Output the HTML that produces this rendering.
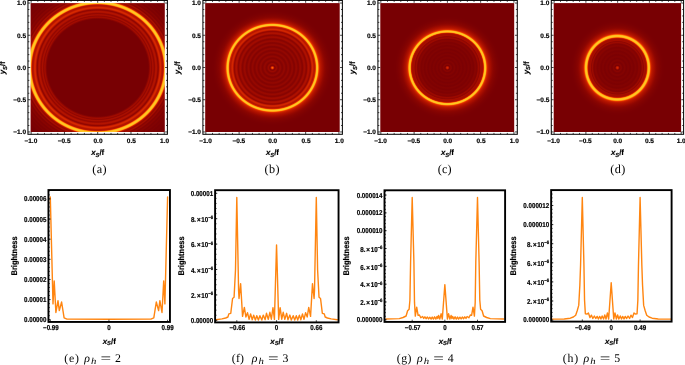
<!DOCTYPE html>
<html><head><meta charset="utf-8"><title>figure</title>
<style>
html,body{margin:0;padding:0;background:#fff;}
body{width:685px;height:365px;overflow:hidden;font-family:"Liberation Sans",sans-serif;}
svg{display:block;will-change:transform;}
text{fill:#000;text-rendering:geometricPrecision;}
</style></head><body>
<svg width="685" height="365" viewBox="0 0 685 365">
<defs>
<radialGradient id="ga" gradientUnits="userSpaceOnUse" cx="0" cy="0" r="1.480" gradientTransform="translate(97.70 67.75) scale(67.150 64.330)"><stop offset="0.0000" stop-color="#780003"/><stop offset="0.5071" stop-color="#780003"/><stop offset="0.5095" stop-color="#790003"/><stop offset="0.5119" stop-color="#7c0103"/><stop offset="0.5143" stop-color="#800202"/><stop offset="0.5167" stop-color="#850302"/><stop offset="0.5190" stop-color="#890401"/><stop offset="0.5214" stop-color="#8e0601"/><stop offset="0.5238" stop-color="#940801"/><stop offset="0.5262" stop-color="#9a0900"/><stop offset="0.5286" stop-color="#9f0b00"/><stop offset="0.5310" stop-color="#a10c00"/><stop offset="0.5333" stop-color="#a10b00"/><stop offset="0.5357" stop-color="#9d0a00"/><stop offset="0.5381" stop-color="#980900"/><stop offset="0.5405" stop-color="#930701"/><stop offset="0.5429" stop-color="#910701"/><stop offset="0.5452" stop-color="#940801"/><stop offset="0.5476" stop-color="#9b0a00"/><stop offset="0.5500" stop-color="#a30c00"/><stop offset="0.5524" stop-color="#a70e00"/><stop offset="0.5548" stop-color="#a90f00"/><stop offset="0.5571" stop-color="#a80f00"/><stop offset="0.5595" stop-color="#a50d00"/><stop offset="0.5619" stop-color="#a10b00"/><stop offset="0.5643" stop-color="#9b0900"/><stop offset="0.5667" stop-color="#950801"/><stop offset="0.5690" stop-color="#930701"/><stop offset="0.5714" stop-color="#950801"/><stop offset="0.5738" stop-color="#9a0900"/><stop offset="0.5762" stop-color="#a10b00"/><stop offset="0.5786" stop-color="#a60e00"/><stop offset="0.5810" stop-color="#ab1000"/><stop offset="0.5833" stop-color="#b01200"/><stop offset="0.5857" stop-color="#b31300"/><stop offset="0.5881" stop-color="#b41400"/><stop offset="0.5905" stop-color="#b31300"/><stop offset="0.5929" stop-color="#b01200"/><stop offset="0.5952" stop-color="#ab1000"/><stop offset="0.5976" stop-color="#a60e00"/><stop offset="0.6000" stop-color="#a10b00"/><stop offset="0.6024" stop-color="#990900"/><stop offset="0.6048" stop-color="#930701"/><stop offset="0.6071" stop-color="#900601"/><stop offset="0.6095" stop-color="#900601"/><stop offset="0.6119" stop-color="#970800"/><stop offset="0.6143" stop-color="#a10c00"/><stop offset="0.6167" stop-color="#ab1000"/><stop offset="0.6190" stop-color="#b51500"/><stop offset="0.6214" stop-color="#bf1a00"/><stop offset="0.6238" stop-color="#c92000"/><stop offset="0.6262" stop-color="#d02500"/><stop offset="0.6286" stop-color="#d52800"/><stop offset="0.6310" stop-color="#d72a00"/><stop offset="0.6333" stop-color="#d62900"/><stop offset="0.6357" stop-color="#d32700"/><stop offset="0.6381" stop-color="#ce2400"/><stop offset="0.6405" stop-color="#c81f00"/><stop offset="0.6429" stop-color="#c11b00"/><stop offset="0.6452" stop-color="#bb1800"/><stop offset="0.6476" stop-color="#b61500"/><stop offset="0.6500" stop-color="#b31400"/><stop offset="0.6524" stop-color="#b31300"/><stop offset="0.6548" stop-color="#b31400"/><stop offset="0.6571" stop-color="#b41400"/><stop offset="0.6595" stop-color="#b71600"/><stop offset="0.6619" stop-color="#c92000"/><stop offset="0.6643" stop-color="#dd3000"/><stop offset="0.6667" stop-color="#f35000"/><stop offset="0.6690" stop-color="#fe7604"/><stop offset="0.6714" stop-color="#ff950d"/><stop offset="0.6738" stop-color="#ffae17"/><stop offset="0.6762" stop-color="#ffbb1c"/><stop offset="0.6786" stop-color="#ffc220"/><stop offset="0.6810" stop-color="#ffc523"/><stop offset="0.6833" stop-color="#ffc824"/><stop offset="0.6857" stop-color="#ffc724"/><stop offset="0.6881" stop-color="#ffc522"/><stop offset="0.6905" stop-color="#ffc020"/><stop offset="0.6929" stop-color="#ffb81b"/><stop offset="0.6952" stop-color="#ffaa15"/><stop offset="0.6976" stop-color="#ff8e0a"/><stop offset="0.7000" stop-color="#fc6b02"/><stop offset="0.7024" stop-color="#ea4000"/><stop offset="0.7048" stop-color="#d12600"/><stop offset="0.7071" stop-color="#bf1a00"/><stop offset="0.7095" stop-color="#b11300"/><stop offset="0.7119" stop-color="#a90f00"/><stop offset="0.7143" stop-color="#a20c00"/><stop offset="0.7167" stop-color="#9b0a00"/><stop offset="0.7190" stop-color="#960800"/><stop offset="0.7214" stop-color="#960800"/><stop offset="0.7238" stop-color="#990900"/><stop offset="0.7262" stop-color="#9f0b00"/><stop offset="0.7286" stop-color="#a30c00"/><stop offset="0.7310" stop-color="#a60e00"/><stop offset="0.7333" stop-color="#a60e00"/><stop offset="0.7357" stop-color="#a40d00"/><stop offset="0.7381" stop-color="#9e0a00"/><stop offset="0.7405" stop-color="#950801"/><stop offset="0.7429" stop-color="#8d0601"/><stop offset="0.7452" stop-color="#880401"/><stop offset="0.7476" stop-color="#870401"/><stop offset="0.7500" stop-color="#890401"/><stop offset="0.7524" stop-color="#8b0501"/><stop offset="0.7548" stop-color="#8f0601"/><stop offset="0.7571" stop-color="#910701"/><stop offset="0.7595" stop-color="#930701"/><stop offset="0.7619" stop-color="#930701"/><stop offset="0.7643" stop-color="#910701"/><stop offset="0.7667" stop-color="#8d0601"/><stop offset="0.7690" stop-color="#890401"/><stop offset="0.7714" stop-color="#850302"/><stop offset="0.7738" stop-color="#820302"/><stop offset="0.7786" stop-color="#820302"/><stop offset="0.7810" stop-color="#840302"/><stop offset="0.7833" stop-color="#850302"/><stop offset="0.7857" stop-color="#870401"/><stop offset="0.7881" stop-color="#880401"/><stop offset="0.7905" stop-color="#890401"/><stop offset="0.7929" stop-color="#890401"/><stop offset="0.7952" stop-color="#870401"/><stop offset="0.7976" stop-color="#840302"/><stop offset="0.8000" stop-color="#820302"/><stop offset="0.8024" stop-color="#7f0202"/><stop offset="0.8048" stop-color="#7e0202"/><stop offset="0.8095" stop-color="#7e0202"/><stop offset="0.8119" stop-color="#800202"/><stop offset="0.8143" stop-color="#810202"/><stop offset="0.8167" stop-color="#820302"/><stop offset="0.8190" stop-color="#830302"/><stop offset="0.8238" stop-color="#830302"/><stop offset="0.8262" stop-color="#810202"/><stop offset="0.8286" stop-color="#800202"/><stop offset="0.8310" stop-color="#7e0202"/><stop offset="0.8333" stop-color="#7d0103"/><stop offset="0.8357" stop-color="#7c0103"/><stop offset="0.8381" stop-color="#7c0103"/><stop offset="0.8405" stop-color="#7d0103"/><stop offset="0.8429" stop-color="#7d0102"/><stop offset="0.8452" stop-color="#7e0202"/><stop offset="0.8476" stop-color="#7f0202"/><stop offset="0.8500" stop-color="#800202"/><stop offset="0.8524" stop-color="#800202"/><stop offset="0.8548" stop-color="#7f0202"/><stop offset="0.8571" stop-color="#7e0102"/><stop offset="0.8595" stop-color="#7c0103"/><stop offset="0.8619" stop-color="#7b0103"/><stop offset="0.8643" stop-color="#7a0103"/><stop offset="0.8690" stop-color="#7a0103"/><stop offset="0.8714" stop-color="#7b0103"/><stop offset="0.8738" stop-color="#7b0103"/><stop offset="0.8762" stop-color="#7c0103"/><stop offset="0.8786" stop-color="#7c0103"/><stop offset="0.8810" stop-color="#7d0103"/><stop offset="0.8833" stop-color="#7c0103"/><stop offset="0.8881" stop-color="#7c0103"/><stop offset="0.8905" stop-color="#7b0103"/><stop offset="0.8929" stop-color="#7a0103"/><stop offset="0.8952" stop-color="#7a0003"/><stop offset="0.8976" stop-color="#790003"/><stop offset="0.9000" stop-color="#790003"/><stop offset="0.9024" stop-color="#780003"/><stop offset="0.9976" stop-color="#780003"/><stop offset="1.0000" stop-color="#780003"/></radialGradient>
<radialGradient id="gb" gradientUnits="userSpaceOnUse" cx="0" cy="0" r="1.480" gradientTransform="translate(272.40 67.75) scale(67.300 64.330)"><stop offset="0.0000" stop-color="#fc6d02"/><stop offset="0.0024" stop-color="#fb6902"/><stop offset="0.0048" stop-color="#f96001"/><stop offset="0.0071" stop-color="#f55300"/><stop offset="0.0095" stop-color="#e93e00"/><stop offset="0.0119" stop-color="#d72a00"/><stop offset="0.0143" stop-color="#c61e00"/><stop offset="0.0167" stop-color="#b11300"/><stop offset="0.0190" stop-color="#a10c00"/><stop offset="0.0214" stop-color="#910701"/><stop offset="0.0238" stop-color="#860402"/><stop offset="0.0262" stop-color="#840302"/><stop offset="0.0286" stop-color="#860402"/><stop offset="0.0310" stop-color="#8b0501"/><stop offset="0.0333" stop-color="#900601"/><stop offset="0.0357" stop-color="#950801"/><stop offset="0.0381" stop-color="#990900"/><stop offset="0.0405" stop-color="#9a0900"/><stop offset="0.0429" stop-color="#980900"/><stop offset="0.0452" stop-color="#950801"/><stop offset="0.0476" stop-color="#920701"/><stop offset="0.0500" stop-color="#8d0601"/><stop offset="0.0524" stop-color="#8a0501"/><stop offset="0.0548" stop-color="#860401"/><stop offset="0.0571" stop-color="#840302"/><stop offset="0.0595" stop-color="#830302"/><stop offset="0.0619" stop-color="#840302"/><stop offset="0.0643" stop-color="#860402"/><stop offset="0.0667" stop-color="#880401"/><stop offset="0.0690" stop-color="#8b0501"/><stop offset="0.0714" stop-color="#8e0601"/><stop offset="0.0738" stop-color="#900601"/><stop offset="0.0762" stop-color="#920701"/><stop offset="0.0786" stop-color="#930701"/><stop offset="0.0810" stop-color="#930701"/><stop offset="0.0833" stop-color="#920701"/><stop offset="0.0857" stop-color="#8f0601"/><stop offset="0.0881" stop-color="#8d0501"/><stop offset="0.0905" stop-color="#8a0501"/><stop offset="0.0929" stop-color="#870401"/><stop offset="0.0952" stop-color="#850302"/><stop offset="0.0976" stop-color="#840302"/><stop offset="0.1000" stop-color="#830302"/><stop offset="0.1024" stop-color="#840302"/><stop offset="0.1048" stop-color="#860402"/><stop offset="0.1071" stop-color="#880401"/><stop offset="0.1095" stop-color="#8b0501"/><stop offset="0.1119" stop-color="#8d0601"/><stop offset="0.1143" stop-color="#900601"/><stop offset="0.1167" stop-color="#920701"/><stop offset="0.1190" stop-color="#930701"/><stop offset="0.1214" stop-color="#920701"/><stop offset="0.1238" stop-color="#910701"/><stop offset="0.1262" stop-color="#8e0601"/><stop offset="0.1286" stop-color="#8c0501"/><stop offset="0.1310" stop-color="#890401"/><stop offset="0.1333" stop-color="#870401"/><stop offset="0.1357" stop-color="#850302"/><stop offset="0.1381" stop-color="#840302"/><stop offset="0.1405" stop-color="#830302"/><stop offset="0.1429" stop-color="#840302"/><stop offset="0.1452" stop-color="#860402"/><stop offset="0.1476" stop-color="#890401"/><stop offset="0.1500" stop-color="#8b0501"/><stop offset="0.1524" stop-color="#8e0601"/><stop offset="0.1548" stop-color="#900601"/><stop offset="0.1571" stop-color="#920701"/><stop offset="0.1595" stop-color="#930701"/><stop offset="0.1619" stop-color="#920701"/><stop offset="0.1643" stop-color="#900701"/><stop offset="0.1667" stop-color="#8e0601"/><stop offset="0.1690" stop-color="#8b0501"/><stop offset="0.1714" stop-color="#890401"/><stop offset="0.1738" stop-color="#860401"/><stop offset="0.1762" stop-color="#850302"/><stop offset="0.1786" stop-color="#840302"/><stop offset="0.1810" stop-color="#840302"/><stop offset="0.1833" stop-color="#850302"/><stop offset="0.1857" stop-color="#870401"/><stop offset="0.1881" stop-color="#890501"/><stop offset="0.1905" stop-color="#8c0501"/><stop offset="0.1929" stop-color="#8f0601"/><stop offset="0.1952" stop-color="#910701"/><stop offset="0.1976" stop-color="#930701"/><stop offset="0.2024" stop-color="#930701"/><stop offset="0.2048" stop-color="#910701"/><stop offset="0.2071" stop-color="#8e0601"/><stop offset="0.2095" stop-color="#8b0501"/><stop offset="0.2119" stop-color="#890401"/><stop offset="0.2143" stop-color="#860401"/><stop offset="0.2167" stop-color="#840302"/><stop offset="0.2190" stop-color="#830302"/><stop offset="0.2214" stop-color="#840302"/><stop offset="0.2238" stop-color="#850302"/><stop offset="0.2262" stop-color="#870401"/><stop offset="0.2286" stop-color="#8a0501"/><stop offset="0.2310" stop-color="#8e0601"/><stop offset="0.2333" stop-color="#910701"/><stop offset="0.2357" stop-color="#930701"/><stop offset="0.2381" stop-color="#950801"/><stop offset="0.2429" stop-color="#950801"/><stop offset="0.2452" stop-color="#930701"/><stop offset="0.2476" stop-color="#900601"/><stop offset="0.2500" stop-color="#8d0601"/><stop offset="0.2524" stop-color="#8a0501"/><stop offset="0.2548" stop-color="#880401"/><stop offset="0.2571" stop-color="#860402"/><stop offset="0.2595" stop-color="#850402"/><stop offset="0.2619" stop-color="#860402"/><stop offset="0.2643" stop-color="#870401"/><stop offset="0.2667" stop-color="#8a0501"/><stop offset="0.2690" stop-color="#8e0601"/><stop offset="0.2714" stop-color="#910701"/><stop offset="0.2738" stop-color="#950801"/><stop offset="0.2762" stop-color="#980900"/><stop offset="0.2786" stop-color="#990900"/><stop offset="0.2810" stop-color="#9a0900"/><stop offset="0.2833" stop-color="#980900"/><stop offset="0.2857" stop-color="#960800"/><stop offset="0.2881" stop-color="#930701"/><stop offset="0.2905" stop-color="#900601"/><stop offset="0.2929" stop-color="#8d0601"/><stop offset="0.2952" stop-color="#8a0501"/><stop offset="0.2976" stop-color="#880401"/><stop offset="0.3000" stop-color="#870401"/><stop offset="0.3024" stop-color="#880401"/><stop offset="0.3048" stop-color="#8a0501"/><stop offset="0.3071" stop-color="#8d0601"/><stop offset="0.3095" stop-color="#920701"/><stop offset="0.3119" stop-color="#960800"/><stop offset="0.3143" stop-color="#9b0a00"/><stop offset="0.3167" stop-color="#9f0b00"/><stop offset="0.3190" stop-color="#a10b00"/><stop offset="0.3214" stop-color="#a10c00"/><stop offset="0.3238" stop-color="#a10b00"/><stop offset="0.3262" stop-color="#9f0b00"/><stop offset="0.3286" stop-color="#9b0a00"/><stop offset="0.3310" stop-color="#980900"/><stop offset="0.3333" stop-color="#940701"/><stop offset="0.3357" stop-color="#900601"/><stop offset="0.3381" stop-color="#8d0601"/><stop offset="0.3405" stop-color="#8b0501"/><stop offset="0.3429" stop-color="#8b0501"/><stop offset="0.3452" stop-color="#8e0601"/><stop offset="0.3476" stop-color="#930701"/><stop offset="0.3500" stop-color="#9a0900"/><stop offset="0.3524" stop-color="#a10c00"/><stop offset="0.3548" stop-color="#a60e00"/><stop offset="0.3571" stop-color="#aa0f00"/><stop offset="0.3595" stop-color="#ad1100"/><stop offset="0.3619" stop-color="#af1100"/><stop offset="0.3643" stop-color="#ae1100"/><stop offset="0.3667" stop-color="#ac1000"/><stop offset="0.3690" stop-color="#a90f00"/><stop offset="0.3714" stop-color="#a50d00"/><stop offset="0.3738" stop-color="#a10b00"/><stop offset="0.3762" stop-color="#9b0a00"/><stop offset="0.3786" stop-color="#960800"/><stop offset="0.3810" stop-color="#940701"/><stop offset="0.3833" stop-color="#950801"/><stop offset="0.3857" stop-color="#9d0a00"/><stop offset="0.3881" stop-color="#a70e00"/><stop offset="0.3905" stop-color="#b11300"/><stop offset="0.3929" stop-color="#bc1900"/><stop offset="0.3952" stop-color="#c61e00"/><stop offset="0.3976" stop-color="#cd2300"/><stop offset="0.4000" stop-color="#d22600"/><stop offset="0.4024" stop-color="#d32700"/><stop offset="0.4048" stop-color="#d12600"/><stop offset="0.4071" stop-color="#cd2300"/><stop offset="0.4095" stop-color="#c92000"/><stop offset="0.4119" stop-color="#c31d00"/><stop offset="0.4143" stop-color="#be1a00"/><stop offset="0.4167" stop-color="#b91700"/><stop offset="0.4190" stop-color="#b51500"/><stop offset="0.4214" stop-color="#b41400"/><stop offset="0.4238" stop-color="#b91700"/><stop offset="0.4262" stop-color="#c11b00"/><stop offset="0.4286" stop-color="#c92000"/><stop offset="0.4310" stop-color="#d32700"/><stop offset="0.4333" stop-color="#e23600"/><stop offset="0.4357" stop-color="#f75a00"/><stop offset="0.4381" stop-color="#ff8107"/><stop offset="0.4405" stop-color="#ffa613"/><stop offset="0.4429" stop-color="#ffb91b"/><stop offset="0.4452" stop-color="#ffc221"/><stop offset="0.4476" stop-color="#ffc623"/><stop offset="0.4500" stop-color="#ffc824"/><stop offset="0.4524" stop-color="#ffc623"/><stop offset="0.4548" stop-color="#ffc120"/><stop offset="0.4571" stop-color="#ffb61a"/><stop offset="0.4595" stop-color="#ff9f11"/><stop offset="0.4619" stop-color="#fe7c05"/><stop offset="0.4643" stop-color="#f75b00"/><stop offset="0.4667" stop-color="#e93f00"/><stop offset="0.4690" stop-color="#de3200"/><stop offset="0.4714" stop-color="#d62900"/><stop offset="0.4738" stop-color="#cf2400"/><stop offset="0.4762" stop-color="#c92000"/><stop offset="0.4786" stop-color="#c41d00"/><stop offset="0.4810" stop-color="#bf1a00"/><stop offset="0.4833" stop-color="#bb1800"/><stop offset="0.4857" stop-color="#b81600"/><stop offset="0.4881" stop-color="#b51500"/><stop offset="0.4905" stop-color="#b21300"/><stop offset="0.4929" stop-color="#af1200"/><stop offset="0.4952" stop-color="#ad1100"/><stop offset="0.4976" stop-color="#aa1000"/><stop offset="0.5000" stop-color="#a80e00"/><stop offset="0.5024" stop-color="#a60d00"/><stop offset="0.5048" stop-color="#a30c00"/><stop offset="0.5071" stop-color="#a10b00"/><stop offset="0.5095" stop-color="#9e0b00"/><stop offset="0.5119" stop-color="#9c0a00"/><stop offset="0.5143" stop-color="#990900"/><stop offset="0.5167" stop-color="#960800"/><stop offset="0.5190" stop-color="#940801"/><stop offset="0.5214" stop-color="#920701"/><stop offset="0.5238" stop-color="#900601"/><stop offset="0.5262" stop-color="#8e0601"/><stop offset="0.5286" stop-color="#8c0501"/><stop offset="0.5310" stop-color="#8b0501"/><stop offset="0.5333" stop-color="#890501"/><stop offset="0.5357" stop-color="#880401"/><stop offset="0.5381" stop-color="#870401"/><stop offset="0.5405" stop-color="#860402"/><stop offset="0.5429" stop-color="#850302"/><stop offset="0.5452" stop-color="#840302"/><stop offset="0.5476" stop-color="#830302"/><stop offset="0.5500" stop-color="#830302"/><stop offset="0.5524" stop-color="#820302"/><stop offset="0.5548" stop-color="#810202"/><stop offset="0.5571" stop-color="#800202"/><stop offset="0.5595" stop-color="#800202"/><stop offset="0.5619" stop-color="#7f0202"/><stop offset="0.5643" stop-color="#7f0202"/><stop offset="0.5667" stop-color="#7e0202"/><stop offset="0.5690" stop-color="#7d0102"/><stop offset="0.5714" stop-color="#7d0103"/><stop offset="0.5738" stop-color="#7c0103"/><stop offset="0.5762" stop-color="#7c0103"/><stop offset="0.5786" stop-color="#7b0103"/><stop offset="0.5810" stop-color="#7b0103"/><stop offset="0.5833" stop-color="#7a0103"/><stop offset="0.5857" stop-color="#7a0103"/><stop offset="0.5881" stop-color="#7a0003"/><stop offset="0.5905" stop-color="#7a0003"/><stop offset="0.5929" stop-color="#790003"/><stop offset="0.6024" stop-color="#790003"/><stop offset="0.6048" stop-color="#780003"/><stop offset="0.9976" stop-color="#780003"/><stop offset="1.0000" stop-color="#780003"/></radialGradient>
<radialGradient id="gc" gradientUnits="userSpaceOnUse" cx="0" cy="0" r="1.480" gradientTransform="translate(447.40 67.75) scale(66.950 64.330)"><stop offset="0.0000" stop-color="#d72a00"/><stop offset="0.0024" stop-color="#d52900"/><stop offset="0.0048" stop-color="#d12600"/><stop offset="0.0071" stop-color="#cc2200"/><stop offset="0.0095" stop-color="#c41d00"/><stop offset="0.0119" stop-color="#b71600"/><stop offset="0.0143" stop-color="#ac1000"/><stop offset="0.0167" stop-color="#a00b00"/><stop offset="0.0190" stop-color="#900601"/><stop offset="0.0214" stop-color="#810202"/><stop offset="0.0238" stop-color="#7c0103"/><stop offset="0.0262" stop-color="#7d0102"/><stop offset="0.0286" stop-color="#810202"/><stop offset="0.0310" stop-color="#850302"/><stop offset="0.0333" stop-color="#880401"/><stop offset="0.0357" stop-color="#890401"/><stop offset="0.0381" stop-color="#880401"/><stop offset="0.0405" stop-color="#860401"/><stop offset="0.0429" stop-color="#840302"/><stop offset="0.0452" stop-color="#810202"/><stop offset="0.0476" stop-color="#7e0202"/><stop offset="0.0500" stop-color="#7c0103"/><stop offset="0.0524" stop-color="#7b0103"/><stop offset="0.0548" stop-color="#7c0103"/><stop offset="0.0571" stop-color="#7d0103"/><stop offset="0.0595" stop-color="#7e0202"/><stop offset="0.0619" stop-color="#7f0202"/><stop offset="0.0643" stop-color="#810202"/><stop offset="0.0667" stop-color="#820302"/><stop offset="0.0690" stop-color="#830302"/><stop offset="0.0738" stop-color="#830302"/><stop offset="0.0762" stop-color="#820302"/><stop offset="0.0786" stop-color="#800202"/><stop offset="0.0810" stop-color="#7e0202"/><stop offset="0.0833" stop-color="#7d0102"/><stop offset="0.0857" stop-color="#7c0103"/><stop offset="0.0881" stop-color="#7b0103"/><stop offset="0.0905" stop-color="#7c0103"/><stop offset="0.0929" stop-color="#7c0103"/><stop offset="0.0952" stop-color="#7d0102"/><stop offset="0.0976" stop-color="#7f0202"/><stop offset="0.1000" stop-color="#800202"/><stop offset="0.1024" stop-color="#810202"/><stop offset="0.1095" stop-color="#810202"/><stop offset="0.1119" stop-color="#800202"/><stop offset="0.1143" stop-color="#7f0202"/><stop offset="0.1167" stop-color="#7d0102"/><stop offset="0.1190" stop-color="#7c0103"/><stop offset="0.1214" stop-color="#7c0103"/><stop offset="0.1238" stop-color="#7b0103"/><stop offset="0.1262" stop-color="#7c0103"/><stop offset="0.1286" stop-color="#7d0103"/><stop offset="0.1310" stop-color="#7e0102"/><stop offset="0.1333" stop-color="#7f0202"/><stop offset="0.1357" stop-color="#800202"/><stop offset="0.1381" stop-color="#810202"/><stop offset="0.1429" stop-color="#810202"/><stop offset="0.1452" stop-color="#800202"/><stop offset="0.1476" stop-color="#7f0202"/><stop offset="0.1500" stop-color="#7e0202"/><stop offset="0.1524" stop-color="#7d0102"/><stop offset="0.1548" stop-color="#7c0103"/><stop offset="0.1571" stop-color="#7c0103"/><stop offset="0.1595" stop-color="#7b0103"/><stop offset="0.1619" stop-color="#7c0103"/><stop offset="0.1643" stop-color="#7d0103"/><stop offset="0.1667" stop-color="#7e0202"/><stop offset="0.1690" stop-color="#7f0202"/><stop offset="0.1714" stop-color="#800202"/><stop offset="0.1738" stop-color="#810202"/><stop offset="0.1786" stop-color="#810202"/><stop offset="0.1810" stop-color="#800202"/><stop offset="0.1833" stop-color="#7f0202"/><stop offset="0.1857" stop-color="#7e0202"/><stop offset="0.1881" stop-color="#7d0102"/><stop offset="0.1905" stop-color="#7c0103"/><stop offset="0.1929" stop-color="#7c0103"/><stop offset="0.1952" stop-color="#7b0103"/><stop offset="0.1976" stop-color="#7c0103"/><stop offset="0.2000" stop-color="#7d0102"/><stop offset="0.2024" stop-color="#7e0202"/><stop offset="0.2048" stop-color="#800202"/><stop offset="0.2071" stop-color="#810202"/><stop offset="0.2095" stop-color="#820302"/><stop offset="0.2143" stop-color="#820302"/><stop offset="0.2167" stop-color="#810202"/><stop offset="0.2190" stop-color="#800202"/><stop offset="0.2214" stop-color="#7f0202"/><stop offset="0.2238" stop-color="#7e0202"/><stop offset="0.2262" stop-color="#7d0102"/><stop offset="0.2286" stop-color="#7d0103"/><stop offset="0.2310" stop-color="#7d0103"/><stop offset="0.2333" stop-color="#7d0102"/><stop offset="0.2357" stop-color="#7e0202"/><stop offset="0.2381" stop-color="#800202"/><stop offset="0.2405" stop-color="#810202"/><stop offset="0.2429" stop-color="#820302"/><stop offset="0.2452" stop-color="#830302"/><stop offset="0.2500" stop-color="#830302"/><stop offset="0.2524" stop-color="#820302"/><stop offset="0.2548" stop-color="#810202"/><stop offset="0.2571" stop-color="#800202"/><stop offset="0.2595" stop-color="#800202"/><stop offset="0.2619" stop-color="#7f0202"/><stop offset="0.2643" stop-color="#7e0202"/><stop offset="0.2667" stop-color="#7f0202"/><stop offset="0.2690" stop-color="#800202"/><stop offset="0.2714" stop-color="#820302"/><stop offset="0.2738" stop-color="#840302"/><stop offset="0.2762" stop-color="#860402"/><stop offset="0.2786" stop-color="#880401"/><stop offset="0.2810" stop-color="#890401"/><stop offset="0.2833" stop-color="#890401"/><stop offset="0.2857" stop-color="#880401"/><stop offset="0.2881" stop-color="#870401"/><stop offset="0.2905" stop-color="#860402"/><stop offset="0.2929" stop-color="#840302"/><stop offset="0.2952" stop-color="#830302"/><stop offset="0.2976" stop-color="#830302"/><stop offset="0.3000" stop-color="#840302"/><stop offset="0.3024" stop-color="#880401"/><stop offset="0.3048" stop-color="#8d0601"/><stop offset="0.3071" stop-color="#930701"/><stop offset="0.3095" stop-color="#990900"/><stop offset="0.3119" stop-color="#9c0a00"/><stop offset="0.3143" stop-color="#9b0a00"/><stop offset="0.3167" stop-color="#9a0900"/><stop offset="0.3190" stop-color="#970800"/><stop offset="0.3214" stop-color="#940701"/><stop offset="0.3238" stop-color="#910701"/><stop offset="0.3262" stop-color="#8f0601"/><stop offset="0.3286" stop-color="#910701"/><stop offset="0.3310" stop-color="#990900"/><stop offset="0.3333" stop-color="#a10c00"/><stop offset="0.3357" stop-color="#a60e00"/><stop offset="0.3381" stop-color="#a70e00"/><stop offset="0.3405" stop-color="#a60e00"/><stop offset="0.3429" stop-color="#a50d00"/><stop offset="0.3452" stop-color="#a50d00"/><stop offset="0.3476" stop-color="#a40d00"/><stop offset="0.3500" stop-color="#a40d00"/><stop offset="0.3524" stop-color="#a50d00"/><stop offset="0.3548" stop-color="#a60e00"/><stop offset="0.3571" stop-color="#a80e00"/><stop offset="0.3595" stop-color="#b01200"/><stop offset="0.3619" stop-color="#bc1800"/><stop offset="0.3643" stop-color="#cb2200"/><stop offset="0.3667" stop-color="#ea3f00"/><stop offset="0.3690" stop-color="#fe7503"/><stop offset="0.3714" stop-color="#ff9c0f"/><stop offset="0.3738" stop-color="#ffb419"/><stop offset="0.3762" stop-color="#ffc01f"/><stop offset="0.3786" stop-color="#ffc522"/><stop offset="0.3810" stop-color="#ffc824"/><stop offset="0.3833" stop-color="#ffc723"/><stop offset="0.3857" stop-color="#ffc321"/><stop offset="0.3881" stop-color="#ffbb1c"/><stop offset="0.3905" stop-color="#ffaa15"/><stop offset="0.3929" stop-color="#ff8708"/><stop offset="0.3952" stop-color="#fa6602"/><stop offset="0.3976" stop-color="#ee4700"/><stop offset="0.4000" stop-color="#e23600"/><stop offset="0.4024" stop-color="#d92c00"/><stop offset="0.4048" stop-color="#d12600"/><stop offset="0.4071" stop-color="#cb2200"/><stop offset="0.4095" stop-color="#c61e00"/><stop offset="0.4119" stop-color="#c11b00"/><stop offset="0.4143" stop-color="#bd1900"/><stop offset="0.4167" stop-color="#b91700"/><stop offset="0.4190" stop-color="#b61500"/><stop offset="0.4214" stop-color="#b31400"/><stop offset="0.4238" stop-color="#b01200"/><stop offset="0.4262" stop-color="#ae1100"/><stop offset="0.4286" stop-color="#ab1000"/><stop offset="0.4310" stop-color="#a90f00"/><stop offset="0.4333" stop-color="#a70e00"/><stop offset="0.4357" stop-color="#a40d00"/><stop offset="0.4381" stop-color="#a20c00"/><stop offset="0.4405" stop-color="#a00b00"/><stop offset="0.4429" stop-color="#9d0a00"/><stop offset="0.4452" stop-color="#9a0900"/><stop offset="0.4476" stop-color="#980900"/><stop offset="0.4500" stop-color="#950801"/><stop offset="0.4524" stop-color="#930701"/><stop offset="0.4548" stop-color="#910701"/><stop offset="0.4571" stop-color="#8f0601"/><stop offset="0.4595" stop-color="#8d0601"/><stop offset="0.4619" stop-color="#8b0501"/><stop offset="0.4643" stop-color="#8a0501"/><stop offset="0.4667" stop-color="#890401"/><stop offset="0.4690" stop-color="#880401"/><stop offset="0.4714" stop-color="#870401"/><stop offset="0.4738" stop-color="#860402"/><stop offset="0.4762" stop-color="#850302"/><stop offset="0.4786" stop-color="#840302"/><stop offset="0.4810" stop-color="#830302"/><stop offset="0.4833" stop-color="#820302"/><stop offset="0.4857" stop-color="#820302"/><stop offset="0.4881" stop-color="#810202"/><stop offset="0.4905" stop-color="#800202"/><stop offset="0.4929" stop-color="#800202"/><stop offset="0.4952" stop-color="#7f0202"/><stop offset="0.4976" stop-color="#7e0202"/><stop offset="0.5000" stop-color="#7e0102"/><stop offset="0.5024" stop-color="#7d0102"/><stop offset="0.5048" stop-color="#7d0103"/><stop offset="0.5071" stop-color="#7c0103"/><stop offset="0.5095" stop-color="#7b0103"/><stop offset="0.5143" stop-color="#7b0103"/><stop offset="0.5167" stop-color="#7a0103"/><stop offset="0.5190" stop-color="#7a0003"/><stop offset="0.5214" stop-color="#7a0003"/><stop offset="0.5238" stop-color="#790003"/><stop offset="0.5357" stop-color="#790003"/><stop offset="0.5381" stop-color="#780003"/><stop offset="0.9976" stop-color="#780003"/><stop offset="1.0000" stop-color="#780003"/></radialGradient>
<radialGradient id="gd" gradientUnits="userSpaceOnUse" cx="0" cy="0" r="1.480" gradientTransform="translate(617.40 67.75) scale(63.700 64.330)"><stop offset="0.0000" stop-color="#d72a00"/><stop offset="0.0024" stop-color="#d52900"/><stop offset="0.0048" stop-color="#d22600"/><stop offset="0.0071" stop-color="#cd2300"/><stop offset="0.0095" stop-color="#c61e00"/><stop offset="0.0119" stop-color="#ba1800"/><stop offset="0.0143" stop-color="#af1200"/><stop offset="0.0167" stop-color="#a40d00"/><stop offset="0.0190" stop-color="#950801"/><stop offset="0.0214" stop-color="#880401"/><stop offset="0.0238" stop-color="#7d0102"/><stop offset="0.0262" stop-color="#7c0103"/><stop offset="0.0286" stop-color="#7e0202"/><stop offset="0.0310" stop-color="#810202"/><stop offset="0.0333" stop-color="#850302"/><stop offset="0.0357" stop-color="#880401"/><stop offset="0.0381" stop-color="#890401"/><stop offset="0.0405" stop-color="#890401"/><stop offset="0.0429" stop-color="#870401"/><stop offset="0.0452" stop-color="#850302"/><stop offset="0.0476" stop-color="#830302"/><stop offset="0.0500" stop-color="#800202"/><stop offset="0.0524" stop-color="#7e0202"/><stop offset="0.0548" stop-color="#7c0103"/><stop offset="0.0571" stop-color="#7b0103"/><stop offset="0.0595" stop-color="#7c0103"/><stop offset="0.0619" stop-color="#7c0103"/><stop offset="0.0643" stop-color="#7d0102"/><stop offset="0.0667" stop-color="#7f0202"/><stop offset="0.0690" stop-color="#800202"/><stop offset="0.0714" stop-color="#820302"/><stop offset="0.0738" stop-color="#830302"/><stop offset="0.0810" stop-color="#830302"/><stop offset="0.0833" stop-color="#820302"/><stop offset="0.0857" stop-color="#800202"/><stop offset="0.0881" stop-color="#7f0202"/><stop offset="0.0905" stop-color="#7d0102"/><stop offset="0.0929" stop-color="#7c0103"/><stop offset="0.0952" stop-color="#7c0103"/><stop offset="0.0976" stop-color="#7b0103"/><stop offset="0.1000" stop-color="#7c0103"/><stop offset="0.1024" stop-color="#7d0102"/><stop offset="0.1048" stop-color="#7e0202"/><stop offset="0.1071" stop-color="#7f0202"/><stop offset="0.1095" stop-color="#800202"/><stop offset="0.1119" stop-color="#810202"/><stop offset="0.1190" stop-color="#810202"/><stop offset="0.1214" stop-color="#800202"/><stop offset="0.1238" stop-color="#7f0202"/><stop offset="0.1262" stop-color="#7e0202"/><stop offset="0.1286" stop-color="#7d0102"/><stop offset="0.1310" stop-color="#7c0103"/><stop offset="0.1333" stop-color="#7c0103"/><stop offset="0.1357" stop-color="#7b0103"/><stop offset="0.1381" stop-color="#7c0103"/><stop offset="0.1405" stop-color="#7d0102"/><stop offset="0.1429" stop-color="#7e0202"/><stop offset="0.1452" stop-color="#7f0202"/><stop offset="0.1476" stop-color="#800202"/><stop offset="0.1500" stop-color="#810202"/><stop offset="0.1524" stop-color="#820302"/><stop offset="0.1548" stop-color="#820302"/><stop offset="0.1571" stop-color="#810202"/><stop offset="0.1595" stop-color="#810202"/><stop offset="0.1619" stop-color="#800202"/><stop offset="0.1643" stop-color="#7f0202"/><stop offset="0.1667" stop-color="#7e0202"/><stop offset="0.1690" stop-color="#7d0102"/><stop offset="0.1714" stop-color="#7d0103"/><stop offset="0.1738" stop-color="#7d0103"/><stop offset="0.1762" stop-color="#7d0102"/><stop offset="0.1786" stop-color="#7e0202"/><stop offset="0.1810" stop-color="#7f0202"/><stop offset="0.1833" stop-color="#800202"/><stop offset="0.1857" stop-color="#820302"/><stop offset="0.1881" stop-color="#830302"/><stop offset="0.1952" stop-color="#830302"/><stop offset="0.1976" stop-color="#820302"/><stop offset="0.2000" stop-color="#820302"/><stop offset="0.2024" stop-color="#810202"/><stop offset="0.2048" stop-color="#800202"/><stop offset="0.2071" stop-color="#7f0202"/><stop offset="0.2143" stop-color="#7f0202"/><stop offset="0.2167" stop-color="#810202"/><stop offset="0.2190" stop-color="#820302"/><stop offset="0.2214" stop-color="#840302"/><stop offset="0.2238" stop-color="#860401"/><stop offset="0.2262" stop-color="#880401"/><stop offset="0.2286" stop-color="#890401"/><stop offset="0.2333" stop-color="#890401"/><stop offset="0.2357" stop-color="#880401"/><stop offset="0.2381" stop-color="#860401"/><stop offset="0.2405" stop-color="#850302"/><stop offset="0.2429" stop-color="#840302"/><stop offset="0.2452" stop-color="#830302"/><stop offset="0.2476" stop-color="#830302"/><stop offset="0.2500" stop-color="#840302"/><stop offset="0.2524" stop-color="#870401"/><stop offset="0.2548" stop-color="#8b0501"/><stop offset="0.2571" stop-color="#900701"/><stop offset="0.2595" stop-color="#950801"/><stop offset="0.2619" stop-color="#990900"/><stop offset="0.2643" stop-color="#9c0a00"/><stop offset="0.2667" stop-color="#9b0a00"/><stop offset="0.2690" stop-color="#980900"/><stop offset="0.2714" stop-color="#940801"/><stop offset="0.2738" stop-color="#900701"/><stop offset="0.2762" stop-color="#8f0601"/><stop offset="0.2786" stop-color="#940801"/><stop offset="0.2810" stop-color="#9c0a00"/><stop offset="0.2833" stop-color="#a30c00"/><stop offset="0.2857" stop-color="#a60e00"/><stop offset="0.2881" stop-color="#a70e00"/><stop offset="0.2905" stop-color="#a60e00"/><stop offset="0.2929" stop-color="#a50d00"/><stop offset="0.2952" stop-color="#a50d00"/><stop offset="0.2976" stop-color="#a40d00"/><stop offset="0.3000" stop-color="#a40d00"/><stop offset="0.3024" stop-color="#a60e00"/><stop offset="0.3048" stop-color="#aa0f00"/><stop offset="0.3071" stop-color="#af1200"/><stop offset="0.3095" stop-color="#b91700"/><stop offset="0.3119" stop-color="#c81f00"/><stop offset="0.3143" stop-color="#db2f00"/><stop offset="0.3167" stop-color="#f55400"/><stop offset="0.3190" stop-color="#fe7d06"/><stop offset="0.3214" stop-color="#ff9d10"/><stop offset="0.3238" stop-color="#ffb219"/><stop offset="0.3262" stop-color="#ffbe1e"/><stop offset="0.3286" stop-color="#ffc321"/><stop offset="0.3310" stop-color="#ffc723"/><stop offset="0.3333" stop-color="#ffc824"/><stop offset="0.3357" stop-color="#ffc623"/><stop offset="0.3381" stop-color="#ffc321"/><stop offset="0.3405" stop-color="#ffbc1d"/><stop offset="0.3429" stop-color="#ffaf17"/><stop offset="0.3452" stop-color="#ff950d"/><stop offset="0.3476" stop-color="#fe7804"/><stop offset="0.3500" stop-color="#f85c01"/><stop offset="0.3524" stop-color="#eb4200"/><stop offset="0.3548" stop-color="#df3300"/><stop offset="0.3571" stop-color="#d52800"/><stop offset="0.3595" stop-color="#cd2300"/><stop offset="0.3619" stop-color="#c71f00"/><stop offset="0.3643" stop-color="#c21c00"/><stop offset="0.3667" stop-color="#be1a00"/><stop offset="0.3690" stop-color="#ba1800"/><stop offset="0.3714" stop-color="#b71600"/><stop offset="0.3738" stop-color="#b41400"/><stop offset="0.3762" stop-color="#b21300"/><stop offset="0.3786" stop-color="#af1200"/><stop offset="0.3810" stop-color="#ad1100"/><stop offset="0.3833" stop-color="#ab1000"/><stop offset="0.3857" stop-color="#a80f00"/><stop offset="0.3881" stop-color="#a60e00"/><stop offset="0.3905" stop-color="#a40d00"/><stop offset="0.3929" stop-color="#a20c00"/><stop offset="0.3952" stop-color="#a00b00"/><stop offset="0.3976" stop-color="#9d0a00"/><stop offset="0.4000" stop-color="#9a0900"/><stop offset="0.4024" stop-color="#980900"/><stop offset="0.4048" stop-color="#950801"/><stop offset="0.4071" stop-color="#930701"/><stop offset="0.4095" stop-color="#910701"/><stop offset="0.4119" stop-color="#8f0601"/><stop offset="0.4143" stop-color="#8d0601"/><stop offset="0.4167" stop-color="#8c0501"/><stop offset="0.4190" stop-color="#8a0501"/><stop offset="0.4214" stop-color="#890501"/><stop offset="0.4238" stop-color="#880401"/><stop offset="0.4262" stop-color="#870401"/><stop offset="0.4286" stop-color="#860402"/><stop offset="0.4310" stop-color="#850402"/><stop offset="0.4333" stop-color="#840302"/><stop offset="0.4357" stop-color="#840302"/><stop offset="0.4381" stop-color="#830302"/><stop offset="0.4405" stop-color="#820302"/><stop offset="0.4429" stop-color="#810202"/><stop offset="0.4452" stop-color="#810202"/><stop offset="0.4476" stop-color="#800202"/><stop offset="0.4500" stop-color="#800202"/><stop offset="0.4524" stop-color="#7f0202"/><stop offset="0.4548" stop-color="#7e0202"/><stop offset="0.4571" stop-color="#7e0202"/><stop offset="0.4595" stop-color="#7d0102"/><stop offset="0.4619" stop-color="#7d0103"/><stop offset="0.4643" stop-color="#7c0103"/><stop offset="0.4667" stop-color="#7c0103"/><stop offset="0.4690" stop-color="#7b0103"/><stop offset="0.4714" stop-color="#7b0103"/><stop offset="0.4738" stop-color="#7a0103"/><stop offset="0.4762" stop-color="#7a0103"/><stop offset="0.4786" stop-color="#7a0003"/><stop offset="0.4810" stop-color="#7a0003"/><stop offset="0.4833" stop-color="#790003"/><stop offset="0.4952" stop-color="#790003"/><stop offset="0.4976" stop-color="#780003"/><stop offset="0.9976" stop-color="#780003"/><stop offset="1.0000" stop-color="#780003"/></radialGradient>
</defs>
<rect x="30.60" y="3.10" width="134.20" height="128.90" fill="url(#ga)"/>
<rect x="27.95" y="0.45" width="139.45" height="133.85" fill="none" stroke="#0a0a0a" stroke-width="1.05"/>
<path d="M31.15 134.30 v-2.30 M31.15 0.45 v2.30 M27.95 131.95 h2.30 M167.40 131.95 h-2.30 M37.81 134.30 v-1.40 M37.81 0.45 v1.40 M27.95 125.50 h1.40 M167.40 125.50 h-1.40 M44.46 134.30 v-1.40 M44.46 0.45 v1.40 M27.95 119.06 h1.40 M167.40 119.06 h-1.40 M51.12 134.30 v-1.40 M51.12 0.45 v1.40 M27.95 112.62 h1.40 M167.40 112.62 h-1.40 M57.77 134.30 v-1.40 M57.77 0.45 v1.40 M27.95 106.17 h1.40 M167.40 106.17 h-1.40 M64.43 134.30 v-2.30 M64.43 0.45 v2.30 M27.95 99.72 h2.30 M167.40 99.72 h-2.30 M71.08 134.30 v-1.40 M71.08 0.45 v1.40 M27.95 93.28 h1.40 M167.40 93.28 h-1.40 M77.73 134.30 v-1.40 M77.73 0.45 v1.40 M27.95 86.84 h1.40 M167.40 86.84 h-1.40 M84.39 134.30 v-1.40 M84.39 0.45 v1.40 M27.95 80.39 h1.40 M167.40 80.39 h-1.40 M91.05 134.30 v-1.40 M91.05 0.45 v1.40 M27.95 73.94 h1.40 M167.40 73.94 h-1.40 M97.70 134.30 v-2.30 M97.70 0.45 v2.30 M27.95 67.50 h2.30 M167.40 67.50 h-2.30 M104.36 134.30 v-1.40 M104.36 0.45 v1.40 M27.95 61.05 h1.40 M167.40 61.05 h-1.40 M111.01 134.30 v-1.40 M111.01 0.45 v1.40 M27.95 54.61 h1.40 M167.40 54.61 h-1.40 M117.67 134.30 v-1.40 M117.67 0.45 v1.40 M27.95 48.16 h1.40 M167.40 48.16 h-1.40 M124.32 134.30 v-1.40 M124.32 0.45 v1.40 M27.95 41.72 h1.40 M167.40 41.72 h-1.40 M130.97 134.30 v-2.30 M130.97 0.45 v2.30 M27.95 35.27 h2.30 M167.40 35.27 h-2.30 M137.63 134.30 v-1.40 M137.63 0.45 v1.40 M27.95 28.83 h1.40 M167.40 28.83 h-1.40 M144.28 134.30 v-1.40 M144.28 0.45 v1.40 M27.95 22.38 h1.40 M167.40 22.38 h-1.40 M150.94 134.30 v-1.40 M150.94 0.45 v1.40 M27.95 15.94 h1.40 M167.40 15.94 h-1.40 M157.59 134.30 v-1.40 M157.59 0.45 v1.40 M27.95 9.49 h1.40 M167.40 9.49 h-1.40 M164.25 134.30 v-2.30 M164.25 0.45 v2.30 M27.95 3.05 h2.30 M167.40 3.05 h-2.30" stroke="#0a0a0a" stroke-width="0.75" fill="none"/>
<text transform="translate(30.85 142.90) scale(1 1.000)" font-family="Liberation Sans, sans-serif" font-weight="bold" stroke="#000" stroke-width="0.18" font-size="6.50" text-anchor="middle">−1.0</text>
<text transform="translate(26.05 134.35) scale(1 1.000)" font-family="Liberation Sans, sans-serif" font-weight="bold" stroke="#000" stroke-width="0.18" font-size="6.50" text-anchor="end">−1.0</text>
<text transform="translate(64.13 142.90) scale(1 1.000)" font-family="Liberation Sans, sans-serif" font-weight="bold" stroke="#000" stroke-width="0.18" font-size="6.50" text-anchor="middle">−0.5</text>
<text transform="translate(26.05 102.12) scale(1 1.000)" font-family="Liberation Sans, sans-serif" font-weight="bold" stroke="#000" stroke-width="0.18" font-size="6.50" text-anchor="end">−0.5</text>
<text transform="translate(98.00 142.90) scale(1 1.000)" font-family="Liberation Sans, sans-serif" font-weight="bold" stroke="#000" stroke-width="0.18" font-size="6.50" text-anchor="middle">0.0</text>
<text transform="translate(26.05 69.90) scale(1 1.000)" font-family="Liberation Sans, sans-serif" font-weight="bold" stroke="#000" stroke-width="0.18" font-size="6.50" text-anchor="end">0.0</text>
<text transform="translate(131.28 142.90) scale(1 1.000)" font-family="Liberation Sans, sans-serif" font-weight="bold" stroke="#000" stroke-width="0.18" font-size="6.50" text-anchor="middle">0.5</text>
<text transform="translate(26.05 37.67) scale(1 1.000)" font-family="Liberation Sans, sans-serif" font-weight="bold" stroke="#000" stroke-width="0.18" font-size="6.50" text-anchor="end">0.5</text>
<text transform="translate(164.55 142.90) scale(1 1.000)" font-family="Liberation Sans, sans-serif" font-weight="bold" stroke="#000" stroke-width="0.18" font-size="6.50" text-anchor="middle">1.0</text>
<text transform="translate(26.05 5.45) scale(1 1.000)" font-family="Liberation Sans, sans-serif" font-weight="bold" stroke="#000" stroke-width="0.18" font-size="6.50" text-anchor="end">1.0</text>
<text x="97.70" y="155.2" font-family="Liberation Sans, sans-serif" font-weight="bold" stroke="#000" stroke-width="0.18" font-size="7.8" text-anchor="middle"><tspan font-style="italic">x</tspan><tspan font-style="italic" font-size="5.8" dy="1.6">S</tspan><tspan dy="-1.6">/f</tspan></text>
<text transform="translate(5.35 67.80) rotate(-90)" font-family="Liberation Sans, sans-serif" font-weight="bold" stroke="#000" stroke-width="0.18" font-size="7.8" text-anchor="middle"><tspan font-style="italic">y</tspan><tspan font-style="italic" font-size="5.8" dy="1.6">S</tspan><tspan dy="-1.6">/f</tspan></text>
<text x="99.40" y="172.7" font-family="Liberation Serif, serif" font-size="12.2" text-anchor="middle" textLength="14.4" lengthAdjust="spacing">(a)</text>
<rect x="205.20" y="3.10" width="134.50" height="128.90" fill="url(#gb)"/>
<rect x="202.90" y="0.45" width="139.50" height="133.85" fill="none" stroke="#0a0a0a" stroke-width="1.05"/>
<path d="M205.85 134.30 v-2.30 M205.85 0.45 v2.30 M202.90 131.95 h2.30 M342.40 131.95 h-2.30 M212.50 134.30 v-1.40 M212.50 0.45 v1.40 M202.90 125.50 h1.40 M342.40 125.50 h-1.40 M219.16 134.30 v-1.40 M219.16 0.45 v1.40 M202.90 119.06 h1.40 M342.40 119.06 h-1.40 M225.81 134.30 v-1.40 M225.81 0.45 v1.40 M202.90 112.62 h1.40 M342.40 112.62 h-1.40 M232.47 134.30 v-1.40 M232.47 0.45 v1.40 M202.90 106.17 h1.40 M342.40 106.17 h-1.40 M239.12 134.30 v-2.30 M239.12 0.45 v2.30 M202.90 99.72 h2.30 M342.40 99.72 h-2.30 M245.78 134.30 v-1.40 M245.78 0.45 v1.40 M202.90 93.28 h1.40 M342.40 93.28 h-1.40 M252.43 134.30 v-1.40 M252.43 0.45 v1.40 M202.90 86.84 h1.40 M342.40 86.84 h-1.40 M259.09 134.30 v-1.40 M259.09 0.45 v1.40 M202.90 80.39 h1.40 M342.40 80.39 h-1.40 M265.75 134.30 v-1.40 M265.75 0.45 v1.40 M202.90 73.94 h1.40 M342.40 73.94 h-1.40 M272.40 134.30 v-2.30 M272.40 0.45 v2.30 M202.90 67.50 h2.30 M342.40 67.50 h-2.30 M279.05 134.30 v-1.40 M279.05 0.45 v1.40 M202.90 61.05 h1.40 M342.40 61.05 h-1.40 M285.71 134.30 v-1.40 M285.71 0.45 v1.40 M202.90 54.61 h1.40 M342.40 54.61 h-1.40 M292.36 134.30 v-1.40 M292.36 0.45 v1.40 M202.90 48.16 h1.40 M342.40 48.16 h-1.40 M299.02 134.30 v-1.40 M299.02 0.45 v1.40 M202.90 41.72 h1.40 M342.40 41.72 h-1.40 M305.67 134.30 v-2.30 M305.67 0.45 v2.30 M202.90 35.27 h2.30 M342.40 35.27 h-2.30 M312.33 134.30 v-1.40 M312.33 0.45 v1.40 M202.90 28.83 h1.40 M342.40 28.83 h-1.40 M318.98 134.30 v-1.40 M318.98 0.45 v1.40 M202.90 22.38 h1.40 M342.40 22.38 h-1.40 M325.64 134.30 v-1.40 M325.64 0.45 v1.40 M202.90 15.94 h1.40 M342.40 15.94 h-1.40 M332.29 134.30 v-1.40 M332.29 0.45 v1.40 M202.90 9.49 h1.40 M342.40 9.49 h-1.40 M338.95 134.30 v-2.30 M338.95 0.45 v2.30 M202.90 3.05 h2.30 M342.40 3.05 h-2.30" stroke="#0a0a0a" stroke-width="0.75" fill="none"/>
<text transform="translate(205.55 142.90) scale(1 1.000)" font-family="Liberation Sans, sans-serif" font-weight="bold" stroke="#000" stroke-width="0.18" font-size="6.50" text-anchor="middle">−1.0</text>
<text transform="translate(201.00 134.35) scale(1 1.000)" font-family="Liberation Sans, sans-serif" font-weight="bold" stroke="#000" stroke-width="0.18" font-size="6.50" text-anchor="end">−1.0</text>
<text transform="translate(238.82 142.90) scale(1 1.000)" font-family="Liberation Sans, sans-serif" font-weight="bold" stroke="#000" stroke-width="0.18" font-size="6.50" text-anchor="middle">−0.5</text>
<text transform="translate(201.00 102.12) scale(1 1.000)" font-family="Liberation Sans, sans-serif" font-weight="bold" stroke="#000" stroke-width="0.18" font-size="6.50" text-anchor="end">−0.5</text>
<text transform="translate(272.70 142.90) scale(1 1.000)" font-family="Liberation Sans, sans-serif" font-weight="bold" stroke="#000" stroke-width="0.18" font-size="6.50" text-anchor="middle">0.0</text>
<text transform="translate(201.00 69.90) scale(1 1.000)" font-family="Liberation Sans, sans-serif" font-weight="bold" stroke="#000" stroke-width="0.18" font-size="6.50" text-anchor="end">0.0</text>
<text transform="translate(305.97 142.90) scale(1 1.000)" font-family="Liberation Sans, sans-serif" font-weight="bold" stroke="#000" stroke-width="0.18" font-size="6.50" text-anchor="middle">0.5</text>
<text transform="translate(201.00 37.67) scale(1 1.000)" font-family="Liberation Sans, sans-serif" font-weight="bold" stroke="#000" stroke-width="0.18" font-size="6.50" text-anchor="end">0.5</text>
<text transform="translate(339.25 142.90) scale(1 1.000)" font-family="Liberation Sans, sans-serif" font-weight="bold" stroke="#000" stroke-width="0.18" font-size="6.50" text-anchor="middle">1.0</text>
<text transform="translate(201.00 5.45) scale(1 1.000)" font-family="Liberation Sans, sans-serif" font-weight="bold" stroke="#000" stroke-width="0.18" font-size="6.50" text-anchor="end">1.0</text>
<text x="272.40" y="155.2" font-family="Liberation Sans, sans-serif" font-weight="bold" stroke="#000" stroke-width="0.18" font-size="7.8" text-anchor="middle"><tspan font-style="italic">x</tspan><tspan font-style="italic" font-size="5.8" dy="1.6">S</tspan><tspan dy="-1.6">/f</tspan></text>
<text transform="translate(180.30 67.80) rotate(-90)" font-family="Liberation Sans, sans-serif" font-weight="bold" stroke="#000" stroke-width="0.18" font-size="7.8" text-anchor="middle"><tspan font-style="italic">y</tspan><tspan font-style="italic" font-size="5.8" dy="1.6">S</tspan><tspan dy="-1.6">/f</tspan></text>
<text x="272.00" y="172.7" font-family="Liberation Serif, serif" font-size="12.2" text-anchor="middle" textLength="15.2" lengthAdjust="spacing">(b)</text>
<rect x="380.30" y="3.10" width="133.90" height="128.90" fill="url(#gc)"/>
<rect x="377.90" y="0.45" width="139.40" height="133.85" fill="none" stroke="#0a0a0a" stroke-width="1.05"/>
<path d="M380.85 134.30 v-2.30 M380.85 0.45 v2.30 M377.90 131.95 h2.30 M517.30 131.95 h-2.30 M387.50 134.30 v-1.40 M387.50 0.45 v1.40 M377.90 125.50 h1.40 M517.30 125.50 h-1.40 M394.16 134.30 v-1.40 M394.16 0.45 v1.40 M377.90 119.06 h1.40 M517.30 119.06 h-1.40 M400.81 134.30 v-1.40 M400.81 0.45 v1.40 M377.90 112.62 h1.40 M517.30 112.62 h-1.40 M407.47 134.30 v-1.40 M407.47 0.45 v1.40 M377.90 106.17 h1.40 M517.30 106.17 h-1.40 M414.12 134.30 v-2.30 M414.12 0.45 v2.30 M377.90 99.72 h2.30 M517.30 99.72 h-2.30 M420.78 134.30 v-1.40 M420.78 0.45 v1.40 M377.90 93.28 h1.40 M517.30 93.28 h-1.40 M427.44 134.30 v-1.40 M427.44 0.45 v1.40 M377.90 86.84 h1.40 M517.30 86.84 h-1.40 M434.09 134.30 v-1.40 M434.09 0.45 v1.40 M377.90 80.39 h1.40 M517.30 80.39 h-1.40 M440.75 134.30 v-1.40 M440.75 0.45 v1.40 M377.90 73.94 h1.40 M517.30 73.94 h-1.40 M447.40 134.30 v-2.30 M447.40 0.45 v2.30 M377.90 67.50 h2.30 M517.30 67.50 h-2.30 M454.05 134.30 v-1.40 M454.05 0.45 v1.40 M377.90 61.05 h1.40 M517.30 61.05 h-1.40 M460.71 134.30 v-1.40 M460.71 0.45 v1.40 M377.90 54.61 h1.40 M517.30 54.61 h-1.40 M467.36 134.30 v-1.40 M467.36 0.45 v1.40 M377.90 48.16 h1.40 M517.30 48.16 h-1.40 M474.02 134.30 v-1.40 M474.02 0.45 v1.40 M377.90 41.72 h1.40 M517.30 41.72 h-1.40 M480.67 134.30 v-2.30 M480.67 0.45 v2.30 M377.90 35.27 h2.30 M517.30 35.27 h-2.30 M487.33 134.30 v-1.40 M487.33 0.45 v1.40 M377.90 28.83 h1.40 M517.30 28.83 h-1.40 M493.98 134.30 v-1.40 M493.98 0.45 v1.40 M377.90 22.38 h1.40 M517.30 22.38 h-1.40 M500.64 134.30 v-1.40 M500.64 0.45 v1.40 M377.90 15.94 h1.40 M517.30 15.94 h-1.40 M507.29 134.30 v-1.40 M507.29 0.45 v1.40 M377.90 9.49 h1.40 M517.30 9.49 h-1.40 M513.95 134.30 v-2.30 M513.95 0.45 v2.30 M377.90 3.05 h2.30 M517.30 3.05 h-2.30" stroke="#0a0a0a" stroke-width="0.75" fill="none"/>
<text transform="translate(380.55 142.90) scale(1 1.000)" font-family="Liberation Sans, sans-serif" font-weight="bold" stroke="#000" stroke-width="0.18" font-size="6.50" text-anchor="middle">−1.0</text>
<text transform="translate(376.00 134.35) scale(1 1.000)" font-family="Liberation Sans, sans-serif" font-weight="bold" stroke="#000" stroke-width="0.18" font-size="6.50" text-anchor="end">−1.0</text>
<text transform="translate(413.82 142.90) scale(1 1.000)" font-family="Liberation Sans, sans-serif" font-weight="bold" stroke="#000" stroke-width="0.18" font-size="6.50" text-anchor="middle">−0.5</text>
<text transform="translate(376.00 102.12) scale(1 1.000)" font-family="Liberation Sans, sans-serif" font-weight="bold" stroke="#000" stroke-width="0.18" font-size="6.50" text-anchor="end">−0.5</text>
<text transform="translate(447.70 142.90) scale(1 1.000)" font-family="Liberation Sans, sans-serif" font-weight="bold" stroke="#000" stroke-width="0.18" font-size="6.50" text-anchor="middle">0.0</text>
<text transform="translate(376.00 69.90) scale(1 1.000)" font-family="Liberation Sans, sans-serif" font-weight="bold" stroke="#000" stroke-width="0.18" font-size="6.50" text-anchor="end">0.0</text>
<text transform="translate(480.97 142.90) scale(1 1.000)" font-family="Liberation Sans, sans-serif" font-weight="bold" stroke="#000" stroke-width="0.18" font-size="6.50" text-anchor="middle">0.5</text>
<text transform="translate(376.00 37.67) scale(1 1.000)" font-family="Liberation Sans, sans-serif" font-weight="bold" stroke="#000" stroke-width="0.18" font-size="6.50" text-anchor="end">0.5</text>
<text transform="translate(514.25 142.90) scale(1 1.000)" font-family="Liberation Sans, sans-serif" font-weight="bold" stroke="#000" stroke-width="0.18" font-size="6.50" text-anchor="middle">1.0</text>
<text transform="translate(376.00 5.45) scale(1 1.000)" font-family="Liberation Sans, sans-serif" font-weight="bold" stroke="#000" stroke-width="0.18" font-size="6.50" text-anchor="end">1.0</text>
<text x="447.40" y="155.2" font-family="Liberation Sans, sans-serif" font-weight="bold" stroke="#000" stroke-width="0.18" font-size="7.8" text-anchor="middle"><tspan font-style="italic">x</tspan><tspan font-style="italic" font-size="5.8" dy="1.6">S</tspan><tspan dy="-1.6">/f</tspan></text>
<text transform="translate(355.30 67.80) rotate(-90)" font-family="Liberation Sans, sans-serif" font-weight="bold" stroke="#000" stroke-width="0.18" font-size="7.8" text-anchor="middle"><tspan font-style="italic">y</tspan><tspan font-style="italic" font-size="5.8" dy="1.6">S</tspan><tspan dy="-1.6">/f</tspan></text>
<text x="444.70" y="172.7" font-family="Liberation Serif, serif" font-size="12.2" text-anchor="middle" textLength="13.9" lengthAdjust="spacing">(c)</text>
<rect x="553.70" y="3.10" width="127.40" height="128.90" fill="url(#gd)"/>
<rect x="551.30" y="0.45" width="132.30" height="133.85" fill="none" stroke="#0a0a0a" stroke-width="1.05"/>
<path d="M554.15 134.30 v-2.30 M554.15 0.45 v2.30 M551.30 131.95 h2.30 M683.60 131.95 h-2.30 M560.50 134.30 v-1.40 M560.50 0.45 v1.40 M551.30 125.50 h1.40 M683.60 125.50 h-1.40 M566.85 134.30 v-1.40 M566.85 0.45 v1.40 M551.30 119.06 h1.40 M683.60 119.06 h-1.40 M573.20 134.30 v-1.40 M573.20 0.45 v1.40 M551.30 112.62 h1.40 M683.60 112.62 h-1.40 M579.55 134.30 v-1.40 M579.55 0.45 v1.40 M551.30 106.17 h1.40 M683.60 106.17 h-1.40 M585.90 134.30 v-2.30 M585.90 0.45 v2.30 M551.30 99.72 h2.30 M683.60 99.72 h-2.30 M592.25 134.30 v-1.40 M592.25 0.45 v1.40 M551.30 93.28 h1.40 M683.60 93.28 h-1.40 M598.60 134.30 v-1.40 M598.60 0.45 v1.40 M551.30 86.84 h1.40 M683.60 86.84 h-1.40 M604.95 134.30 v-1.40 M604.95 0.45 v1.40 M551.30 80.39 h1.40 M683.60 80.39 h-1.40 M611.30 134.30 v-1.40 M611.30 0.45 v1.40 M551.30 73.94 h1.40 M683.60 73.94 h-1.40 M617.65 134.30 v-2.30 M617.65 0.45 v2.30 M551.30 67.50 h2.30 M683.60 67.50 h-2.30 M624.00 134.30 v-1.40 M624.00 0.45 v1.40 M551.30 61.05 h1.40 M683.60 61.05 h-1.40 M630.35 134.30 v-1.40 M630.35 0.45 v1.40 M551.30 54.61 h1.40 M683.60 54.61 h-1.40 M636.70 134.30 v-1.40 M636.70 0.45 v1.40 M551.30 48.16 h1.40 M683.60 48.16 h-1.40 M643.05 134.30 v-1.40 M643.05 0.45 v1.40 M551.30 41.72 h1.40 M683.60 41.72 h-1.40 M649.40 134.30 v-2.30 M649.40 0.45 v2.30 M551.30 35.27 h2.30 M683.60 35.27 h-2.30 M655.75 134.30 v-1.40 M655.75 0.45 v1.40 M551.30 28.83 h1.40 M683.60 28.83 h-1.40 M662.10 134.30 v-1.40 M662.10 0.45 v1.40 M551.30 22.38 h1.40 M683.60 22.38 h-1.40 M668.45 134.30 v-1.40 M668.45 0.45 v1.40 M551.30 15.94 h1.40 M683.60 15.94 h-1.40 M674.80 134.30 v-1.40 M674.80 0.45 v1.40 M551.30 9.49 h1.40 M683.60 9.49 h-1.40 M681.15 134.30 v-2.30 M681.15 0.45 v2.30 M551.30 3.05 h2.30 M683.60 3.05 h-2.30" stroke="#0a0a0a" stroke-width="0.75" fill="none"/>
<text transform="translate(553.55 142.90) scale(1 1.000)" font-family="Liberation Sans, sans-serif" font-weight="bold" stroke="#000" stroke-width="0.18" font-size="6.50" text-anchor="middle">−1.0</text>
<text transform="translate(549.40 134.35) scale(1 1.000)" font-family="Liberation Sans, sans-serif" font-weight="bold" stroke="#000" stroke-width="0.18" font-size="6.50" text-anchor="end">−1.0</text>
<text transform="translate(585.30 142.90) scale(1 1.000)" font-family="Liberation Sans, sans-serif" font-weight="bold" stroke="#000" stroke-width="0.18" font-size="6.50" text-anchor="middle">−0.5</text>
<text transform="translate(549.40 102.12) scale(1 1.000)" font-family="Liberation Sans, sans-serif" font-weight="bold" stroke="#000" stroke-width="0.18" font-size="6.50" text-anchor="end">−0.5</text>
<text transform="translate(617.65 142.90) scale(1 1.000)" font-family="Liberation Sans, sans-serif" font-weight="bold" stroke="#000" stroke-width="0.18" font-size="6.50" text-anchor="middle">0.0</text>
<text transform="translate(549.40 69.90) scale(1 1.000)" font-family="Liberation Sans, sans-serif" font-weight="bold" stroke="#000" stroke-width="0.18" font-size="6.50" text-anchor="end">0.0</text>
<text transform="translate(649.40 142.90) scale(1 1.000)" font-family="Liberation Sans, sans-serif" font-weight="bold" stroke="#000" stroke-width="0.18" font-size="6.50" text-anchor="middle">0.5</text>
<text transform="translate(549.40 37.67) scale(1 1.000)" font-family="Liberation Sans, sans-serif" font-weight="bold" stroke="#000" stroke-width="0.18" font-size="6.50" text-anchor="end">0.5</text>
<text transform="translate(681.15 142.90) scale(1 1.000)" font-family="Liberation Sans, sans-serif" font-weight="bold" stroke="#000" stroke-width="0.18" font-size="6.50" text-anchor="middle">1.0</text>
<text transform="translate(549.40 5.45) scale(1 1.000)" font-family="Liberation Sans, sans-serif" font-weight="bold" stroke="#000" stroke-width="0.18" font-size="6.50" text-anchor="end">1.0</text>
<text x="617.40" y="155.2" font-family="Liberation Sans, sans-serif" font-weight="bold" stroke="#000" stroke-width="0.18" font-size="7.8" text-anchor="middle"><tspan font-style="italic">x</tspan><tspan font-style="italic" font-size="5.8" dy="1.6">S</tspan><tspan dy="-1.6">/f</tspan></text>
<text transform="translate(528.70 67.80) rotate(-90)" font-family="Liberation Sans, sans-serif" font-weight="bold" stroke="#000" stroke-width="0.18" font-size="7.8" text-anchor="middle"><tspan font-style="italic">y</tspan><tspan font-style="italic" font-size="5.8" dy="1.6">S</tspan><tspan dy="-1.6">/f</tspan></text>
<text x="617.80" y="172.7" font-family="Liberation Serif, serif" font-size="12.2" text-anchor="middle" textLength="15.2" lengthAdjust="spacing">(d)</text>
<polyline points="50.30,196.90 53.00,303.90 54.20,280.90 55.90,312.50 58.00,300.60 59.30,310.60 61.60,302.00 64.10,317.90 67.00,319.10 108.95,319.20 150.90,319.10 153.80,317.90 156.30,302.00 158.60,310.60 159.90,300.60 162.00,312.50 163.70,280.90 164.90,303.90 167.60,196.90" fill="none" stroke="#FF8510" stroke-width="1.40" stroke-linejoin="round" stroke-linecap="round"/>
<rect x="48.45" y="190.05" width="121.50" height="131.90" fill="none" stroke="#000" stroke-width="1.9"/>
<text transform="translate(46.45 321.90) scale(1 1.140)" font-family="Liberation Sans, sans-serif" font-weight="bold" stroke="#000" stroke-width="0.18" font-size="6.20" text-anchor="end">0.00000</text>
<text transform="translate(46.45 302.07) scale(1 1.140)" font-family="Liberation Sans, sans-serif" font-weight="bold" stroke="#000" stroke-width="0.18" font-size="6.20" text-anchor="end">0.00001</text>
<text transform="translate(46.45 281.94) scale(1 1.140)" font-family="Liberation Sans, sans-serif" font-weight="bold" stroke="#000" stroke-width="0.18" font-size="6.20" text-anchor="end">0.00002</text>
<text transform="translate(46.45 261.81) scale(1 1.140)" font-family="Liberation Sans, sans-serif" font-weight="bold" stroke="#000" stroke-width="0.18" font-size="6.20" text-anchor="end">0.00003</text>
<text transform="translate(46.45 241.68) scale(1 1.140)" font-family="Liberation Sans, sans-serif" font-weight="bold" stroke="#000" stroke-width="0.18" font-size="6.20" text-anchor="end">0.00004</text>
<text transform="translate(46.45 221.55) scale(1 1.140)" font-family="Liberation Sans, sans-serif" font-weight="bold" stroke="#000" stroke-width="0.18" font-size="6.20" text-anchor="end">0.00005</text>
<text transform="translate(46.45 201.42) scale(1 1.140)" font-family="Liberation Sans, sans-serif" font-weight="bold" stroke="#000" stroke-width="0.18" font-size="6.20" text-anchor="end">0.00006</text>
<text transform="translate(50.85 329.90) scale(1 1.140)" font-family="Liberation Sans, sans-serif" font-weight="bold" stroke="#000" stroke-width="0.18" font-size="6.20" text-anchor="middle">−0.99</text>
<text transform="translate(108.95 329.90) scale(1 1.140)" font-family="Liberation Sans, sans-serif" font-weight="bold" stroke="#000" stroke-width="0.18" font-size="6.20" text-anchor="middle">0</text>
<text transform="translate(167.55 329.90) scale(1 1.140)" font-family="Liberation Sans, sans-serif" font-weight="bold" stroke="#000" stroke-width="0.18" font-size="6.20" text-anchor="middle">0.99</text>
<path d="M48.45 319.70 h2.2 M48.45 299.57 h2.2 M48.45 279.44 h2.2 M48.45 259.31 h2.2 M48.45 239.18 h2.2 M48.45 219.05 h2.2 M48.45 198.92 h2.2 M48.45 319.70 h1.5 M48.45 315.67 h1.5 M48.45 311.65 h1.5 M48.45 307.62 h1.5 M48.45 303.60 h1.5 M48.45 299.57 h1.5 M48.45 295.54 h1.5 M48.45 291.52 h1.5 M48.45 287.49 h1.5 M48.45 283.47 h1.5 M48.45 279.44 h1.5 M48.45 275.41 h1.5 M48.45 271.39 h1.5 M48.45 267.36 h1.5 M48.45 263.34 h1.5 M48.45 259.31 h1.5 M48.45 255.28 h1.5 M48.45 251.26 h1.5 M48.45 247.23 h1.5 M48.45 243.21 h1.5 M48.45 239.18 h1.5 M48.45 235.15 h1.5 M48.45 231.13 h1.5 M48.45 227.10 h1.5 M48.45 223.08 h1.5 M48.45 219.05 h1.5 M48.45 215.02 h1.5 M48.45 211.00 h1.5 M48.45 206.97 h1.5 M48.45 202.95 h1.5 M48.45 198.92 h1.5 M48.45 194.89 h1.5 M48.45 190.87 h1.5 M50.35 321.95 v-2.2 M108.95 321.95 v-2.2 M167.55 321.95 v-2.2" stroke="#000" stroke-width="0.7" fill="none"/>
<text x="109.25" y="343.6" font-family="Liberation Sans, sans-serif" font-weight="bold" stroke="#000" stroke-width="0.18" font-size="7.8" text-anchor="middle"><tspan font-style="italic">x</tspan><tspan font-style="italic" font-size="5.8" dy="1.6">S</tspan><tspan dy="-1.6">/f</tspan></text>
<text transform="translate(17.25 255.90) rotate(-90) scale(1 1.1)" font-family="Liberation Sans, sans-serif" font-weight="bold" stroke="#000" stroke-width="0.18" font-size="7.5" text-anchor="middle">Brightness</text>
<text x="64.30" y="361.7" font-family="Liberation Serif, serif" font-size="11.8" textLength="14.6" lengthAdjust="spacing">(e)</text>
<text x="84.20" y="361.7" font-family="Liberation Serif, serif" font-size="11.8" font-style="italic">ρ</text>
<text x="90.90" y="363.7" font-family="Liberation Serif, serif" font-size="9.2" font-style="italic" textLength="5.4" lengthAdjust="spacingAndGlyphs">h</text>
<text x="100.50" y="361.9" font-family="Liberation Serif, serif" font-size="11.8" textLength="10.6" lengthAdjust="spacingAndGlyphs">=</text>
<text x="114.90" y="361.7" font-family="Liberation Serif, serif" font-size="11.8">2</text>
<polyline points="215.82,319.70 221.97,318.90 225.70,318.00 227.92,317.00 228.83,313.90 230.75,313.30 232.56,298.50 234.08,297.30 235.49,270.00 236.80,197.50 238.21,270.00 238.57,289.90 239.02,298.50 240.63,283.70 242.55,316.40 244.37,307.40 245.88,317.00 247.49,312.70 249.11,319.40 250.62,313.90 252.24,319.70 253.70,315.10 255.36,320.00 256.78,315.70 258.39,320.00 259.90,315.70 261.82,320.00 263.23,315.10 265.15,319.70 266.46,313.30 268.28,319.40 269.89,312.30 271.35,319.20 272.97,307.70 274.43,319.40 276.55,244.90 278.67,319.40 280.13,307.70 281.75,319.20 283.21,312.30 284.82,319.40 286.64,313.30 287.95,319.70 289.87,315.10 291.28,320.00 293.20,315.70 294.71,320.00 296.32,315.70 297.74,320.00 299.40,315.10 300.86,319.70 302.48,313.90 303.99,319.40 305.61,312.70 307.22,317.00 308.73,307.40 310.55,316.40 312.47,283.70 314.08,298.50 314.53,289.90 314.89,270.00 316.30,197.50 317.61,270.00 319.02,297.30 320.54,298.50 322.35,313.30 324.27,313.90 325.18,317.00 327.40,318.00 331.13,318.90 337.28,319.70" fill="none" stroke="#FF8510" stroke-width="1.40" stroke-linejoin="round" stroke-linecap="round"/>
<rect x="215.10" y="190.20" width="123.45" height="132.20" fill="none" stroke="#000" stroke-width="1.9"/>
<text transform="translate(213.10 322.50) scale(1 1.140)" font-family="Liberation Sans, sans-serif" font-weight="bold" stroke="#000" stroke-width="0.18" font-size="6.20" text-anchor="end">0.00000</text>
<text transform="translate(213.10 298.10) scale(1 1.140)" font-family="Liberation Sans, sans-serif" font-weight="bold" stroke="#000" stroke-width="0.18" font-size="6.20" text-anchor="end">2.<tspan dx="0.8">×</tspan><tspan dx="0.8">10</tspan><tspan font-size="4.3" dy="-2.4">−6</tspan></text>
<text transform="translate(213.10 272.70) scale(1 1.140)" font-family="Liberation Sans, sans-serif" font-weight="bold" stroke="#000" stroke-width="0.18" font-size="6.20" text-anchor="end">4.<tspan dx="0.8">×</tspan><tspan dx="0.8">10</tspan><tspan font-size="4.3" dy="-2.4">−6</tspan></text>
<text transform="translate(213.10 247.30) scale(1 1.140)" font-family="Liberation Sans, sans-serif" font-weight="bold" stroke="#000" stroke-width="0.18" font-size="6.20" text-anchor="end">6.<tspan dx="0.8">×</tspan><tspan dx="0.8">10</tspan><tspan font-size="4.3" dy="-2.4">−6</tspan></text>
<text transform="translate(213.10 221.90) scale(1 1.140)" font-family="Liberation Sans, sans-serif" font-weight="bold" stroke="#000" stroke-width="0.18" font-size="6.20" text-anchor="end">8.<tspan dx="0.8">×</tspan><tspan dx="0.8">10</tspan><tspan font-size="4.3" dy="-2.4">−6</tspan></text>
<text transform="translate(213.10 195.80) scale(1 1.140)" font-family="Liberation Sans, sans-serif" font-weight="bold" stroke="#000" stroke-width="0.18" font-size="6.20" text-anchor="end">0.00001</text>
<text transform="translate(237.30 329.90) scale(1 1.140)" font-family="Liberation Sans, sans-serif" font-weight="bold" stroke="#000" stroke-width="0.18" font-size="6.20" text-anchor="middle">−0.66</text>
<text transform="translate(276.55 329.90) scale(1 1.140)" font-family="Liberation Sans, sans-serif" font-weight="bold" stroke="#000" stroke-width="0.18" font-size="6.20" text-anchor="middle">0</text>
<text transform="translate(316.30 329.90) scale(1 1.140)" font-family="Liberation Sans, sans-serif" font-weight="bold" stroke="#000" stroke-width="0.18" font-size="6.20" text-anchor="middle">0.66</text>
<path d="M215.10 320.30 h2.2 M215.10 294.90 h2.2 M215.10 269.50 h2.2 M215.10 244.10 h2.2 M215.10 218.70 h2.2 M215.10 193.30 h2.2 M215.10 320.30 h1.5 M215.10 315.22 h1.5 M215.10 310.14 h1.5 M215.10 305.06 h1.5 M215.10 299.98 h1.5 M215.10 294.90 h1.5 M215.10 289.82 h1.5 M215.10 284.74 h1.5 M215.10 279.66 h1.5 M215.10 274.58 h1.5 M215.10 269.50 h1.5 M215.10 264.42 h1.5 M215.10 259.34 h1.5 M215.10 254.26 h1.5 M215.10 249.18 h1.5 M215.10 244.10 h1.5 M215.10 239.02 h1.5 M215.10 233.94 h1.5 M215.10 228.86 h1.5 M215.10 223.78 h1.5 M215.10 218.70 h1.5 M215.10 213.62 h1.5 M215.10 208.54 h1.5 M215.10 203.46 h1.5 M215.10 198.38 h1.5 M215.10 193.30 h1.5 M236.80 322.40 v-2.2 M276.55 322.40 v-2.2 M316.30 322.40 v-2.2" stroke="#000" stroke-width="0.7" fill="none"/>
<text x="276.85" y="343.6" font-family="Liberation Sans, sans-serif" font-weight="bold" stroke="#000" stroke-width="0.18" font-size="7.8" text-anchor="middle"><tspan font-style="italic">x</tspan><tspan font-style="italic" font-size="5.8" dy="1.6">S</tspan><tspan dy="-1.6">/f</tspan></text>
<text transform="translate(183.90 255.90) rotate(-90) scale(1 1.1)" font-family="Liberation Sans, sans-serif" font-weight="bold" stroke="#000" stroke-width="0.18" font-size="7.5" text-anchor="middle">Brightness</text>
<text x="231.80" y="361.7" font-family="Liberation Serif, serif" font-size="11.8" textLength="12.2" lengthAdjust="spacing">(f)</text>
<text x="251.70" y="361.7" font-family="Liberation Serif, serif" font-size="11.8" font-style="italic">ρ</text>
<text x="258.40" y="363.7" font-family="Liberation Serif, serif" font-size="9.2" font-style="italic" textLength="5.4" lengthAdjust="spacingAndGlyphs">h</text>
<text x="268.00" y="361.9" font-family="Liberation Serif, serif" font-size="11.8" textLength="10.6" lengthAdjust="spacingAndGlyphs">=</text>
<text x="282.40" y="361.7" font-family="Liberation Serif, serif" font-size="11.8">3</text>
<polyline points="386.00,319.00 399.30,318.60 403.05,317.50 406.10,316.00 407.60,310.70 409.10,309.20 409.90,300.20 410.60,262.00 412.20,197.50 413.90,262.00 414.50,302.40 415.30,316.10 416.70,307.20 418.10,315.40 419.40,315.00 420.80,317.80 422.60,316.50 423.70,318.40 424.90,316.80 426.10,318.70 427.40,317.00 428.60,318.90 429.80,317.20 431.10,319.10 432.20,317.00 433.40,319.10 434.60,316.80 435.90,319.10 437.00,316.40 437.80,318.60 438.60,315.40 439.80,319.10 441.10,313.80 442.30,319.00 444.85,284.60 447.40,319.00 448.60,313.80 449.90,319.10 451.10,315.40 451.90,318.60 452.70,316.40 453.80,319.10 455.10,316.80 456.30,319.10 457.50,317.00 458.60,319.10 459.90,317.20 461.10,318.90 462.30,317.00 463.60,318.70 464.80,316.80 466.00,318.40 467.10,316.50 468.90,317.80 470.30,315.00 471.60,315.40 473.00,307.20 474.40,316.10 475.20,302.40 475.80,262.00 477.50,197.50 479.10,262.00 479.80,300.20 480.60,309.20 482.10,310.70 483.60,316.00 486.65,317.50 490.40,318.60 503.70,319.00" fill="none" stroke="#FF8510" stroke-width="1.40" stroke-linejoin="round" stroke-linecap="round"/>
<rect x="384.50" y="190.30" width="120.60" height="131.60" fill="none" stroke="#000" stroke-width="1.9"/>
<text transform="translate(382.50 322.00) scale(1 1.140)" font-family="Liberation Sans, sans-serif" font-weight="bold" stroke="#000" stroke-width="0.18" font-size="6.20" text-anchor="end">0.000000</text>
<text transform="translate(382.50 305.18) scale(1 1.140)" font-family="Liberation Sans, sans-serif" font-weight="bold" stroke="#000" stroke-width="0.18" font-size="6.20" text-anchor="end">2.<tspan dx="0.8">×</tspan><tspan dx="0.8">10</tspan><tspan font-size="4.3" dy="-2.4">−6</tspan></text>
<text transform="translate(382.50 287.36) scale(1 1.140)" font-family="Liberation Sans, sans-serif" font-weight="bold" stroke="#000" stroke-width="0.18" font-size="6.20" text-anchor="end">4.<tspan dx="0.8">×</tspan><tspan dx="0.8">10</tspan><tspan font-size="4.3" dy="-2.4">−6</tspan></text>
<text transform="translate(382.50 269.54) scale(1 1.140)" font-family="Liberation Sans, sans-serif" font-weight="bold" stroke="#000" stroke-width="0.18" font-size="6.20" text-anchor="end">6.<tspan dx="0.8">×</tspan><tspan dx="0.8">10</tspan><tspan font-size="4.3" dy="-2.4">−6</tspan></text>
<text transform="translate(382.50 251.72) scale(1 1.140)" font-family="Liberation Sans, sans-serif" font-weight="bold" stroke="#000" stroke-width="0.18" font-size="6.20" text-anchor="end">8.<tspan dx="0.8">×</tspan><tspan dx="0.8">10</tspan><tspan font-size="4.3" dy="-2.4">−6</tspan></text>
<text transform="translate(382.50 233.20) scale(1 1.140)" font-family="Liberation Sans, sans-serif" font-weight="bold" stroke="#000" stroke-width="0.18" font-size="6.20" text-anchor="end">0.000010</text>
<text transform="translate(382.50 215.38) scale(1 1.140)" font-family="Liberation Sans, sans-serif" font-weight="bold" stroke="#000" stroke-width="0.18" font-size="6.20" text-anchor="end">0.000012</text>
<text transform="translate(382.50 197.56) scale(1 1.140)" font-family="Liberation Sans, sans-serif" font-weight="bold" stroke="#000" stroke-width="0.18" font-size="6.20" text-anchor="end">0.000014</text>
<text transform="translate(412.70 329.90) scale(1 1.140)" font-family="Liberation Sans, sans-serif" font-weight="bold" stroke="#000" stroke-width="0.18" font-size="6.20" text-anchor="middle">−0.57</text>
<text transform="translate(444.85 329.90) scale(1 1.140)" font-family="Liberation Sans, sans-serif" font-weight="bold" stroke="#000" stroke-width="0.18" font-size="6.20" text-anchor="middle">0</text>
<text transform="translate(477.50 329.90) scale(1 1.140)" font-family="Liberation Sans, sans-serif" font-weight="bold" stroke="#000" stroke-width="0.18" font-size="6.20" text-anchor="middle">0.57</text>
<path d="M384.50 319.80 h2.2 M384.50 301.98 h2.2 M384.50 284.16 h2.2 M384.50 266.34 h2.2 M384.50 248.52 h2.2 M384.50 230.70 h2.2 M384.50 212.88 h2.2 M384.50 195.06 h2.2 M384.50 319.80 h1.5 M384.50 316.24 h1.5 M384.50 312.67 h1.5 M384.50 309.11 h1.5 M384.50 305.54 h1.5 M384.50 301.98 h1.5 M384.50 298.42 h1.5 M384.50 294.85 h1.5 M384.50 291.29 h1.5 M384.50 287.72 h1.5 M384.50 284.16 h1.5 M384.50 280.60 h1.5 M384.50 277.03 h1.5 M384.50 273.47 h1.5 M384.50 269.90 h1.5 M384.50 266.34 h1.5 M384.50 262.78 h1.5 M384.50 259.21 h1.5 M384.50 255.65 h1.5 M384.50 252.08 h1.5 M384.50 248.52 h1.5 M384.50 244.96 h1.5 M384.50 241.39 h1.5 M384.50 237.83 h1.5 M384.50 234.26 h1.5 M384.50 230.70 h1.5 M384.50 227.14 h1.5 M384.50 223.57 h1.5 M384.50 220.01 h1.5 M384.50 216.44 h1.5 M384.50 212.88 h1.5 M384.50 209.32 h1.5 M384.50 205.75 h1.5 M384.50 202.19 h1.5 M384.50 198.62 h1.5 M384.50 195.06 h1.5 M384.50 191.50 h1.5 M412.20 321.90 v-2.2 M444.85 321.90 v-2.2 M477.50 321.90 v-2.2" stroke="#000" stroke-width="0.7" fill="none"/>
<text x="445.15" y="343.6" font-family="Liberation Sans, sans-serif" font-weight="bold" stroke="#000" stroke-width="0.18" font-size="7.8" text-anchor="middle"><tspan font-style="italic">x</tspan><tspan font-style="italic" font-size="5.8" dy="1.6">S</tspan><tspan dy="-1.6">/f</tspan></text>
<text transform="translate(349.40 255.90) rotate(-90) scale(1 1.1)" font-family="Liberation Sans, sans-serif" font-weight="bold" stroke="#000" stroke-width="0.18" font-size="7.5" text-anchor="middle">Brightness</text>
<text x="396.70" y="361.7" font-family="Liberation Serif, serif" font-size="11.8" textLength="14.8" lengthAdjust="spacing">(g)</text>
<text x="417.00" y="361.7" font-family="Liberation Serif, serif" font-size="11.8" font-style="italic">ρ</text>
<text x="423.70" y="363.7" font-family="Liberation Serif, serif" font-size="9.2" font-style="italic" textLength="5.4" lengthAdjust="spacingAndGlyphs">h</text>
<text x="433.30" y="361.9" font-family="Liberation Serif, serif" font-size="11.8" textLength="10.6" lengthAdjust="spacingAndGlyphs">=</text>
<text x="447.70" y="361.7" font-family="Liberation Serif, serif" font-size="11.8">4</text>
<polyline points="551.16,319.10 564.19,319.00 570.29,318.20 573.35,317.00 575.69,315.20 577.21,310.70 578.74,305.40 579.86,285.00 580.57,265.00 582.30,197.50 583.93,265.00 584.54,300.00 585.35,313.70 587.18,314.00 588.41,312.90 589.93,317.50 591.46,315.20 592.83,318.50 594.36,316.00 595.73,318.50 597.16,316.40 598.38,319.00 599.70,316.40 600.92,319.00 602.14,316.00 603.57,319.00 604.79,314.90 606.01,319.00 607.43,312.90 608.66,319.00 611.20,282.80 613.74,319.00 614.97,312.90 616.39,319.00 617.61,314.90 618.83,319.00 620.26,316.00 621.48,319.00 622.70,316.40 624.02,319.00 625.24,316.40 626.67,318.50 628.04,316.00 629.57,318.50 630.94,315.20 632.47,317.50 633.99,312.90 635.22,314.00 637.05,313.70 637.86,300.00 638.47,265.00 640.10,197.50 641.83,265.00 642.54,285.00 643.66,305.40 645.19,310.70 646.71,315.20 649.05,317.00 652.11,318.20 658.21,319.00 671.24,319.10" fill="none" stroke="#FF8510" stroke-width="1.40" stroke-linejoin="round" stroke-linecap="round"/>
<rect x="551.15" y="190.10" width="120.45" height="131.50" fill="none" stroke="#000" stroke-width="1.9"/>
<text transform="translate(549.15 322.30) scale(1 1.140)" font-family="Liberation Sans, sans-serif" font-weight="bold" stroke="#000" stroke-width="0.18" font-size="6.20" text-anchor="end">0.000000</text>
<text transform="translate(549.15 304.20) scale(1 1.140)" font-family="Liberation Sans, sans-serif" font-weight="bold" stroke="#000" stroke-width="0.18" font-size="6.20" text-anchor="end">2.<tspan dx="0.8">×</tspan><tspan dx="0.8">10</tspan><tspan font-size="4.3" dy="-2.4">−6</tspan></text>
<text transform="translate(549.15 285.10) scale(1 1.140)" font-family="Liberation Sans, sans-serif" font-weight="bold" stroke="#000" stroke-width="0.18" font-size="6.20" text-anchor="end">4.<tspan dx="0.8">×</tspan><tspan dx="0.8">10</tspan><tspan font-size="4.3" dy="-2.4">−6</tspan></text>
<text transform="translate(549.15 266.00) scale(1 1.140)" font-family="Liberation Sans, sans-serif" font-weight="bold" stroke="#000" stroke-width="0.18" font-size="6.20" text-anchor="end">6.<tspan dx="0.8">×</tspan><tspan dx="0.8">10</tspan><tspan font-size="4.3" dy="-2.4">−6</tspan></text>
<text transform="translate(549.15 246.90) scale(1 1.140)" font-family="Liberation Sans, sans-serif" font-weight="bold" stroke="#000" stroke-width="0.18" font-size="6.20" text-anchor="end">8.<tspan dx="0.8">×</tspan><tspan dx="0.8">10</tspan><tspan font-size="4.3" dy="-2.4">−6</tspan></text>
<text transform="translate(549.15 227.10) scale(1 1.140)" font-family="Liberation Sans, sans-serif" font-weight="bold" stroke="#000" stroke-width="0.18" font-size="6.20" text-anchor="end">0.000010</text>
<text transform="translate(549.15 208.00) scale(1 1.140)" font-family="Liberation Sans, sans-serif" font-weight="bold" stroke="#000" stroke-width="0.18" font-size="6.20" text-anchor="end">0.000012</text>
<text transform="translate(582.80 329.90) scale(1 1.140)" font-family="Liberation Sans, sans-serif" font-weight="bold" stroke="#000" stroke-width="0.18" font-size="6.20" text-anchor="middle">−0.49</text>
<text transform="translate(611.20 329.90) scale(1 1.140)" font-family="Liberation Sans, sans-serif" font-weight="bold" stroke="#000" stroke-width="0.18" font-size="6.20" text-anchor="middle">0</text>
<text transform="translate(640.10 329.90) scale(1 1.140)" font-family="Liberation Sans, sans-serif" font-weight="bold" stroke="#000" stroke-width="0.18" font-size="6.20" text-anchor="middle">0.49</text>
<path d="M551.15 320.10 h2.2 M551.15 301.00 h2.2 M551.15 281.90 h2.2 M551.15 262.80 h2.2 M551.15 243.70 h2.2 M551.15 224.60 h2.2 M551.15 205.50 h2.2 M551.15 320.10 h1.5 M551.15 316.28 h1.5 M551.15 312.46 h1.5 M551.15 308.64 h1.5 M551.15 304.82 h1.5 M551.15 301.00 h1.5 M551.15 297.18 h1.5 M551.15 293.36 h1.5 M551.15 289.54 h1.5 M551.15 285.72 h1.5 M551.15 281.90 h1.5 M551.15 278.08 h1.5 M551.15 274.26 h1.5 M551.15 270.44 h1.5 M551.15 266.62 h1.5 M551.15 262.80 h1.5 M551.15 258.98 h1.5 M551.15 255.16 h1.5 M551.15 251.34 h1.5 M551.15 247.52 h1.5 M551.15 243.70 h1.5 M551.15 239.88 h1.5 M551.15 236.06 h1.5 M551.15 232.24 h1.5 M551.15 228.42 h1.5 M551.15 224.60 h1.5 M551.15 220.78 h1.5 M551.15 216.96 h1.5 M551.15 213.14 h1.5 M551.15 209.32 h1.5 M551.15 205.50 h1.5 M551.15 201.68 h1.5 M551.15 197.86 h1.5 M551.15 194.04 h1.5 M551.15 190.22 h1.5 M582.30 321.60 v-2.2 M611.20 321.60 v-2.2 M640.10 321.60 v-2.2" stroke="#000" stroke-width="0.7" fill="none"/>
<text x="611.50" y="343.6" font-family="Liberation Sans, sans-serif" font-weight="bold" stroke="#000" stroke-width="0.18" font-size="7.8" text-anchor="middle"><tspan font-style="italic">x</tspan><tspan font-style="italic" font-size="5.8" dy="1.6">S</tspan><tspan dy="-1.6">/f</tspan></text>
<text transform="translate(516.05 255.90) rotate(-90) scale(1 1.1)" font-family="Liberation Sans, sans-serif" font-weight="bold" stroke="#000" stroke-width="0.18" font-size="7.5" text-anchor="middle">Brightness</text>
<text x="562.70" y="361.7" font-family="Liberation Serif, serif" font-size="11.8" textLength="15.6" lengthAdjust="spacing">(h)</text>
<text x="583.50" y="361.7" font-family="Liberation Serif, serif" font-size="11.8" font-style="italic">ρ</text>
<text x="590.20" y="363.7" font-family="Liberation Serif, serif" font-size="9.2" font-style="italic" textLength="5.4" lengthAdjust="spacingAndGlyphs">h</text>
<text x="599.80" y="361.9" font-family="Liberation Serif, serif" font-size="11.8" textLength="10.6" lengthAdjust="spacingAndGlyphs">=</text>
<text x="614.20" y="361.7" font-family="Liberation Serif, serif" font-size="11.8">5</text>
</svg>
</body></html>
